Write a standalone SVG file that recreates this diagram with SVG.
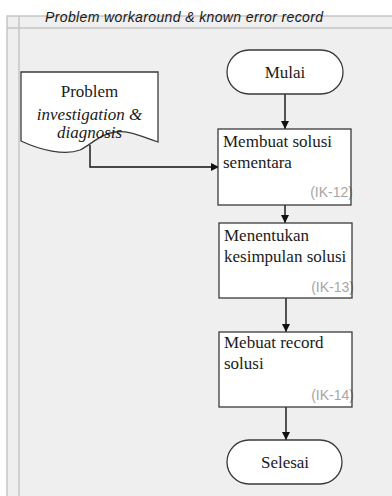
<svg xmlns="http://www.w3.org/2000/svg" width="392" height="496" viewBox="0 0 392 496">
<defs>
<style>
.frame{fill:#efefef;stroke:#c6c6c6;stroke-width:1.5}
.lane{fill:none;stroke:#c6c6c6;stroke-width:1.5}
.node{fill:#ffffff;stroke:#3a3a3a;stroke-width:1.3}
.bg{fill:#ffffff;stroke:none}
.border{fill:none;stroke:#3a3a3a;stroke-width:1.3}
.t{font-family:"Liberation Serif","Times New Roman",serif;font-size:17px;fill:#1a1a1a}
.ik{font-family:"Liberation Sans",Arial,sans-serif;font-size:14px;fill:#a6a6a6;text-anchor:end}
.title{font-family:"Liberation Sans",Arial,sans-serif;font-size:14px;font-style:italic;fill:#1a1a1a}
.edge{fill:none;stroke:#111111;stroke-width:1.4}
</style>
<marker id="arr" markerWidth="10" markerHeight="10" refX="9" refY="5" orient="auto" markerUnits="userSpaceOnUse">
<path d="M1,1 L9,5 L1,9 Z" fill="#111111"/>
</marker>
</defs>
<rect x="0" y="0" width="392" height="496" fill="#ffffff"/>
<g id="pool">
<rect class="frame" x="7" y="16" width="400" height="500"/>
<line class="lane" x1="7" y1="28" x2="400" y2="28"/>
<line class="lane" x1="19" y1="16" x2="19" y2="500"/>
<text class="title" x="45" y="22" textLength="278" lengthAdjust="spacing">Problem workaround &amp; known error record</text>
</g>
<g id="connectors">
<path class="edge" d="M90,145 V167 H219" marker-end="url(#arr)"/>
<path class="edge" d="M285,94 V129" marker-end="url(#arr)"/>
<path class="edge" d="M285,205 V223" marker-end="url(#arr)"/>
<path class="edge" d="M286,298 V332" marker-end="url(#arr)"/>
<path class="edge" d="M286,407 V440" marker-end="url(#arr)"/>
</g>
<g id="doc">
<path class="node" d="M21,72 H158 V142 C140,136 128,130 115,132 C100,134 92,144 80,150 C65,156 40,150 21,141 Z"/>
<text class="t" x="89.5" y="97" text-anchor="middle">Problem</text>
<text class="t" x="89.5" y="120" text-anchor="middle" font-style="italic">investigation &amp;</text>
<text class="t" x="89.5" y="138" text-anchor="middle" font-style="italic">diagnosis</text>
</g>
<g id="mulai">
<rect class="node" x="227" y="50" width="116" height="44" rx="22" ry="22"/>
<text class="t" x="285" y="78" text-anchor="middle">Mulai</text>
</g>
<g id="ik12">
<rect class="bg" x="218" y="129" width="133" height="76"/>
<text class="t" x="223" y="147">Membuat solusi</text>
<text class="t" x="223" y="168">sementara</text>
<text class="ik" x="353" y="197">(IK-12)</text>
<rect class="border" x="218" y="129" width="133" height="76"/>
</g>
<g id="ik13">
<rect class="bg" x="219" y="223" width="133" height="75"/>
<text class="t" x="224" y="241">Menentukan</text>
<text class="t" x="224" y="262">kesimpulan solusi</text>
<text class="ik" x="354" y="292">(IK-13)</text>
<rect class="border" x="219" y="223" width="133" height="75"/>
</g>
<g id="ik14">
<rect class="bg" x="219" y="332" width="133" height="75"/>
<text class="t" x="224" y="348">Mebuat record</text>
<text class="t" x="224" y="369">solusi</text>
<text class="ik" x="354" y="400">(IK-14)</text>
<rect class="border" x="219" y="332" width="133" height="75"/>
</g>
<g id="selesai">
<rect class="node" x="227" y="440" width="115" height="44" rx="22" ry="22"/>
<text class="t" x="285" y="468" text-anchor="middle">Selesai</text>
</g>
</svg>
